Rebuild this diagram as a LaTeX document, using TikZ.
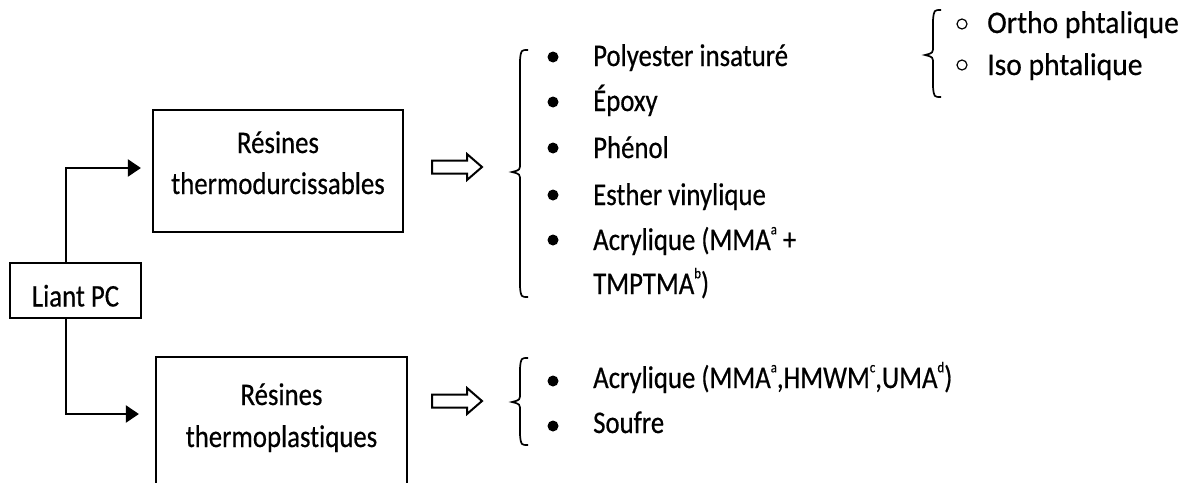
\documentclass[tikz,border=0pt]{standalone}
\usepackage{fontspec}
\setmainfont{Carlito}[FakeStretch=0.85,FakeBold=0.5,Ligatures=NoCommon]
\newfontfamily\widefont{Carlito}[FakeStretch=0.94,FakeBold=0.5,Ligatures=NoCommon]
\usetikzlibrary{arrows.meta,calc}
\newcommand\sups[1]{\raisebox{0.5em}{\fontsize{15}{15}\selectfont #1}}
\newcommand\wbrace[5]{% R L T M B
  \draw[bracestyle] (#1,#3) .. controls ({(#1+#2)/2+1},#3) .. ({(#1+#2)/2},#3+10)
    -- ({(#1+#2)/2},#4-9) .. controls ({(#1+#2)/2},#4-2) .. (#2,#4)
    .. controls ({(#1+#2)/2},#4+2) .. ({(#1+#2)/2},#4+9)
    -- ({(#1+#2)/2},#5-10) .. controls ({(#1+#2)/2+1},#5) .. (#1,#5);}
\newcommand\hollowarrow[1]{%
  \begin{scope}[shift={(0,#1)}]
  \draw[line width=2pt, line join=miter] (432,-6.5) -- (467,-6.5) -- (467,-13) -- (482,0)
    -- (467,13) -- (467,6.5) -- (432,6.5) -- cycle;
  \end{scope}}
\begin{document}
\begin{tikzpicture}[x=1pt,y=-1pt,
  every node/.style={font=\fontsize{31.5}{38}\selectfont, inner sep=0pt},
  box/.style={draw, line width=2.2pt},
  txt/.style={anchor=base west},
  ctxt/.style={anchor=base},
  conn/.style={line width=2.2pt, -{Triangle[length=13pt,width=17pt]}},
  bracestyle/.style={line width=1.7pt}]
\clip (0,0) rectangle (1188,482);
\fill[white] (0,0) rectangle (1188,482);
% boxes
\node[box, minimum width=131pt, minimum height=55pt, text height=32pt, text depth=0pt] (liant) at (75.5,290.5) {Liant PC};
\node[box, minimum width=250pt, minimum height=122pt] (thermo) at (278,171) {};
\node[ctxt] (thermoA) at (278,153) {Résines};
\node[ctxt] (thermoB) at (278,194) {thermodurcissables};
\node[box, minimum width=251pt, minimum height=140pt] (plast) at (281.5,427) {};
\node[ctxt] (plastA) at (281.5,405) {Résines};
\node[ctxt] (plastB) at (281.5,447) {thermoplastiques};
% connectors
\draw[conn] ([xshift=-9.5pt]liant.north) |- ([xshift=-11pt,yshift=3pt]thermo.west);
\draw[conn] ([xshift=-9.5pt]liant.south) |- ([xshift=-16pt,yshift=13pt]plast.west);
% hollow arrows
\hollowarrow{167}
\hollowarrow{401}
% braces
\wbrace{528}{512}{50}{172}{297}
\wbrace{528}{512}{358}{402}{445}
\wbrace{941}{925}{10}{55}{97}
% top list
\foreach \y in {57,102,148,195,240} \fill (553,\y) circle[radius=5.5pt];
\node[txt] (t1) at (593,66) {Polyester insaturé};
\node[txt] (t2) at (593,111) {Époxy};
\node[txt] (t3) at (593,158) {Phénol};
\node[txt] (t4) at (593,205) {Esther vinylique};
\node[txt] (t5) at (593,250) {Acrylique (MMA\sups{a} +};
\node[txt] (t6) at (593,294) {TMPTMA\sups{b})};
% bottom list
\foreach \y in {381,426} \fill (553,\y) circle[radius=5.5pt];
\node[txt] (b1) at (593,388) {Acrylique (MMA\sups{a},HMWM\sups{c},UMA\sups{d})};
\node[txt] (b2) at (593,433) {Soufre};
% top right list
\foreach \y in {24,65} \draw[line width=1.2pt] (962,\y) circle[radius=5pt];
\node[txt, font=\fontsize{31.5}{38}\widefont] (r1) at (987,33) {Ortho phtalique};
\node[txt, font=\fontsize{31.5}{38}\widefont] (r2) at (987,75) {Iso phtalique};
\end{tikzpicture}
\end{document}
